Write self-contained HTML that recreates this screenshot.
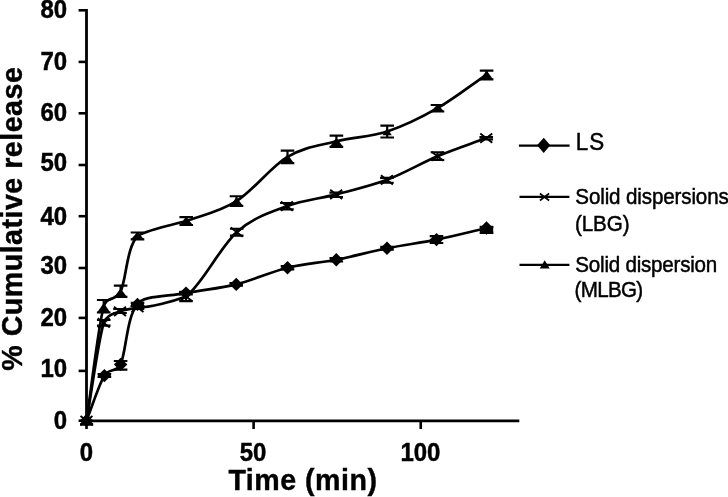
<!DOCTYPE html>
<html lang="en"><head><meta charset="utf-8"><title>Cumulative release chart</title>
<style>html,body{margin:0;padding:0;background:#fff}body{width:728px;height:497px;overflow:hidden}svg{display:block}</style>
</head><body>
<svg width="728" height="497" viewBox="0 0 728 497">
<rect width="728" height="497" fill="#fff"/>
<g stroke="#000" fill="none" stroke-linecap="butt">
<path d="M86.5 9V422.2" stroke-width="2.8"/>
<path d="M85.1 420.9H519.3" stroke-width="2.7"/>
<path d="M78.6 10.30H86.4" stroke-width="2.6"/>
<path d="M78.6 61.90H86.4" stroke-width="2.6"/>
<path d="M78.6 113.30H86.4" stroke-width="2.6"/>
<path d="M78.6 165.00H86.4" stroke-width="2.6"/>
<path d="M78.6 216.20H86.4" stroke-width="2.6"/>
<path d="M78.6 268.00H86.4" stroke-width="2.6"/>
<path d="M78.6 317.90H86.4" stroke-width="2.6"/>
<path d="M78.6 370.90H86.4" stroke-width="2.6"/>
<path d="M78.6 420.70H86.4" stroke-width="2.6"/>
<path d="M86.50 420.8V429" stroke-width="2.6"/>
<path d="M253.60 420.8V429" stroke-width="2.6"/>
<path d="M420.75 420.8V429" stroke-width="2.6"/>
</g>
<g stroke="#000" fill="none" stroke-width="2.7" stroke-linejoin="round">
<path d="M86.50 420.60 C92.47 405.60 98.72 384.97 104.40 375.60 C109.51 367.18 116.45 373.33 120.60 364.40 C126.12 352.53 126.60 316.28 137.50 304.40 C141.50 295.50 168.00 296.50 186.00 293.10 C202.46 289.77 219.33 288.62 236.25 284.40 C253.17 280.17 270.82 271.86 287.50 267.75 C304.18 263.64 319.72 263.00 336.30 259.75 C352.88 256.50 370.30 251.61 387.00 248.25 C403.70 244.89 419.92 242.97 436.50 239.60 C453.08 236.22 469.83 231.87 486.50 228.00"/>
<path d="M86.50 420.60 C92.25 388.00 98.17 341.00 103.75 322.80 C106.66 313.31 117.07 312.73 120.00 311.40 C124.47 309.37 128.76 309.47 137.50 307.50 C150.00 307.60 172.00 301.80 186.00 296.50 C202.53 283.95 219.88 247.25 236.70 232.20 C253.52 217.15 270.32 212.50 286.90 206.20 C303.48 199.90 319.53 198.80 336.20 194.40 C352.87 190.00 370.02 186.16 386.90 179.80 C403.78 173.44 420.94 163.20 437.50 156.25 C454.06 149.30 470.00 144.15 486.25 138.10"/>
<path d="M86.50 420.60 C92.23 382.57 98.02 328.02 103.70 306.50 C106.59 295.58 115.72 301.69 120.60 291.50 C126.23 279.75 126.56 247.75 137.50 236.00 C150.00 228.80 170.00 225.60 186.25 221.00 C202.75 215.20 219.62 211.88 236.50 201.20 C253.38 190.52 270.85 166.88 287.50 156.90 C304.15 146.92 319.78 145.53 336.40 141.30 C353.02 137.07 370.35 137.02 387.20 131.50 C404.05 125.98 420.93 117.68 437.50 108.20 C454.07 98.72 470.23 85.80 486.60 74.60"/>
</g>
<g stroke="#000" fill="none" stroke-width="2.2">
<path d="M104.40 374.20V377.00M97.60 374.20H111.20M97.60 377.00H111.20"/>
<path d="M120.60 361.00V369.70M113.80 361.00H127.40M113.80 369.70H127.40"/>
<path d="M137.50 302.80V306.00M130.70 302.80H144.30M130.70 306.00H144.30"/>
<path d="M186.00 291.80V294.40M179.20 291.80H192.80M179.20 294.40H192.80"/>
<path d="M236.25 283.10V285.70M229.45 283.10H243.05M229.45 285.70H243.05"/>
<path d="M287.50 266.20V269.30M280.70 266.20H294.30M280.70 269.30H294.30"/>
<path d="M336.30 258.00V261.50M329.50 258.00H343.10M329.50 261.50H343.10"/>
<path d="M387.00 246.80V249.70M380.20 246.80H393.80M380.20 249.70H393.80"/>
<path d="M436.50 236.20V243.00M429.70 236.20H443.30M429.70 243.00H443.30"/>
<path d="M486.50 226.80V232.80M479.70 226.80H493.30M479.70 232.80H493.30"/>
<path d="M103.75 320.00V325.60M96.95 320.00H110.55M96.95 325.60H110.55"/>
<path d="M120.00 309.00V313.00M113.20 309.00H126.80M113.20 313.00H126.80"/>
<path d="M137.50 306.00V309.00M130.70 306.00H144.30M130.70 309.00H144.30"/>
<path d="M186.00 292.50V301.20M179.20 292.50H192.80M179.20 301.20H192.80"/>
<path d="M236.70 228.75V235.60M229.90 228.75H243.50M229.90 235.60H243.50"/>
<path d="M286.90 203.00V209.40M280.10 203.00H293.70M280.10 209.40H293.70"/>
<path d="M336.20 192.60V197.00M329.40 192.60H343.00M329.40 197.00H343.00"/>
<path d="M386.90 177.80V182.75M380.10 177.80H393.70M380.10 182.75H393.70"/>
<path d="M437.50 152.25V160.00M430.70 152.25H444.30M430.70 160.00H444.30"/>
<path d="M486.25 137.00V139.40M479.45 137.00H493.05M479.45 139.40H493.05"/>
<path d="M103.70 300.00V312.50M96.90 300.00H110.50M96.90 312.50H110.50"/>
<path d="M120.60 285.60V296.90M113.80 285.60H127.40M113.80 296.90H127.40"/>
<path d="M137.50 232.50V239.40M130.70 232.50H144.30M130.70 239.40H144.30"/>
<path d="M186.25 217.20V225.00M179.45 217.20H193.05M179.45 225.00H193.05"/>
<path d="M236.50 196.25V205.90M229.70 196.25H243.30M229.70 205.90H243.30"/>
<path d="M287.50 150.60V163.10M280.70 150.60H294.30M280.70 163.10H294.30"/>
<path d="M336.40 135.60V146.90M329.60 135.60H343.20M329.60 146.90H343.20"/>
<path d="M387.20 125.60V137.50M380.40 125.60H394.00M380.40 137.50H394.00"/>
<path d="M437.50 105.00V111.50M430.70 105.00H444.30M430.70 111.50H444.30"/>
<path d="M486.60 70.60V79.40M479.80 70.60H493.40M479.80 79.40H493.40"/>
</g>
<g fill="#000" stroke="none">
<path d="M86.50 413.90L93.20 420.60L86.50 427.30L79.80 420.60Z"/>
<path d="M104.40 368.90L111.10 375.60L104.40 382.30L97.70 375.60Z"/>
<path d="M120.60 357.70L127.30 364.40L120.60 371.10L113.90 364.40Z"/>
<path d="M137.50 297.70L144.20 304.40L137.50 311.10L130.80 304.40Z"/>
<path d="M186.00 286.40L192.70 293.10L186.00 299.80L179.30 293.10Z"/>
<path d="M236.25 277.70L242.95 284.40L236.25 291.10L229.55 284.40Z"/>
<path d="M287.50 261.05L294.20 267.75L287.50 274.45L280.80 267.75Z"/>
<path d="M336.30 253.05L343.00 259.75L336.30 266.45L329.60 259.75Z"/>
<path d="M387.00 241.55L393.70 248.25L387.00 254.95L380.30 248.25Z"/>
<path d="M436.50 232.90L443.20 239.60L436.50 246.30L429.80 239.60Z"/>
<path d="M486.50 221.30L493.20 228.00L486.50 234.70L479.80 228.00Z"/>
<rect x="479.9" y="226" width="13.3" height="7.8"/>
<path d="M80 425.8V423.4L83 421H90L93.2 423.4V425.8Z"/>
<path d="M86.50 416.00L93.10 425.00L79.90 425.00Z"/>
<path d="M103.70 303.00L110.30 312.50L97.10 312.50Z"/>
<path d="M120.60 288.40L127.00 296.90L114.20 296.90Z"/>
<path d="M137.50 231.80L144.10 239.40L130.90 239.40Z"/>
<path d="M186.25 216.40L192.75 225.00L179.75 225.00Z"/>
<path d="M236.50 197.30L243.10 205.90L229.90 205.90Z"/>
<path d="M287.50 154.20L293.80 163.10L281.20 163.10Z"/>
<path d="M336.40 137.80L343.20 146.90L329.60 146.90Z"/>
<path d="M387.20 128.00L391.80 135.30L382.60 135.30Z"/>
<path d="M437.50 104.20L444.10 111.50L430.90 111.50Z"/>
<path d="M486.60 70.40L493.20 79.40L480.00 79.40Z"/>
</g>
<g stroke="#000" fill="none" stroke-width="1.9">
<path d="M80.50 416.00L92.50 425.20M80.50 425.20L92.50 416.00"/>
<path d="M97.75 318.20L109.75 327.40M97.75 327.40L109.75 318.20"/>
<path d="M114.00 306.80L126.00 316.00M114.00 316.00L126.00 306.80"/>
<path d="M131.50 302.90L143.50 312.10M131.50 312.10L143.50 302.90"/>
<path d="M180.00 291.90L192.00 301.10M180.00 301.10L192.00 291.90"/>
<path d="M230.70 227.60L242.70 236.80M230.70 236.80L242.70 227.60"/>
<path d="M280.90 201.60L292.90 210.80M280.90 210.80L292.90 201.60"/>
<path d="M330.20 189.80L342.20 199.00M330.20 199.00L342.20 189.80"/>
<path d="M380.90 175.20L392.90 184.40M380.90 184.40L392.90 175.20"/>
<path d="M431.50 151.65L443.50 160.85M431.50 160.85L443.50 151.65"/>
<path d="M480.25 133.50L492.25 142.70M480.25 142.70L492.25 133.50"/>
</g>
<g stroke="#000" fill="none" stroke-width="2.3">
<path d="M518.9 145.7H569.6"/><path d="M519.5 196.9H569.4"/><path d="M519.5 264.9H569.4"/>
</g>
<g fill="#000"><path d="M543.70 137.70L550.30 145.30L543.70 152.90L537.10 145.30Z"/><path d="M544.70 260.20L549.70 268.60L539.70 268.60Z"/></g>
<g stroke="#000" fill="none" stroke-width="1.6"><path d="M539.90 193.50L549.10 200.50M539.90 200.50L549.10 193.50"/></g>
<g font-family="'Liberation Sans', Arial, Helvetica, sans-serif" fill="#000" stroke="#000" stroke-width="0.45" font-weight="700" font-size="24px" text-anchor="end">
<text transform="translate(67.1 18.00) scale(1 1.045)">80</text>
<text transform="translate(67.1 70.10) scale(1 1.045)">70</text>
<text transform="translate(67.1 121.00) scale(1 1.045)">60</text>
<text transform="translate(67.1 171.40) scale(1 1.045)">50</text>
<text transform="translate(67.1 224.50) scale(1 1.045)">40</text>
<text transform="translate(67.1 273.90) scale(1 1.045)">30</text>
<text transform="translate(67.1 325.75) scale(1 1.045)">20</text>
<text transform="translate(67.1 377.00) scale(1 1.045)">10</text>
<text transform="translate(67.1 428.90) scale(1 1.045)">0</text>
</g>
<g font-family="'Liberation Sans', Arial, Helvetica, sans-serif" fill="#000" stroke="#000" stroke-width="0.45" font-weight="700" font-size="24px" text-anchor="middle">
<text transform="translate(86.50 461) scale(1 1.045)">0</text>
<text transform="translate(253.10 461) scale(1 1.045)">50</text>
<text transform="translate(420.40 461) scale(1 1.045)">100</text>
</g>
<g font-family="'Liberation Sans', Arial, Helvetica, sans-serif" fill="#000" stroke="#000" stroke-width="0.4" font-weight="700" font-size="28.6px" text-anchor="middle" letter-spacing="0.5">
<text x="302.9" y="490">Time (min)</text>
<text transform="translate(22.3 218.7) rotate(-90)">% Cumulative release</text>
</g>
<g font-family="'Liberation Sans', Arial, Helvetica, sans-serif" fill="#000" stroke="#000" stroke-width="0.45" font-size="20.6px">
<text transform="translate(575.70 150.30) scale(1 1.060)" textLength="28.4" lengthAdjust="spacing" font-size="22.4px">LS</text>
<text transform="translate(575.30 203.60) scale(1 1.090)" textLength="153.5" lengthAdjust="spacing">Solid dispersions</text>
<text transform="translate(575.00 231.00) scale(1 1.090)" textLength="54.5" lengthAdjust="spacing">(LBG)</text>
<text transform="translate(575.30 271.50) scale(1 1.090)" textLength="142.0" lengthAdjust="spacing">Solid dispersion</text>
<text transform="translate(574.60 296.90) scale(1 1.090)" textLength="68.5" lengthAdjust="spacing">(MLBG)</text>
</g>
</svg>
</body></html>
